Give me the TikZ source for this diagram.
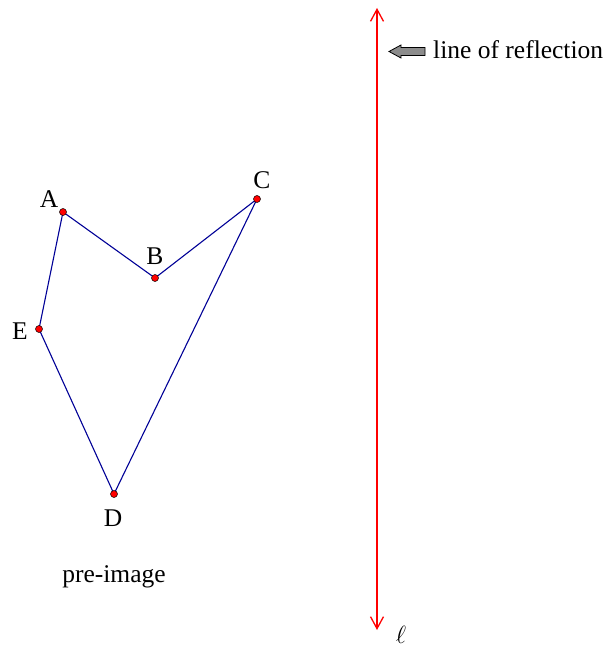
\documentclass[tikz,border=0pt]{standalone}
\usepackage{fontspec}
\setmainfont{Liberation Serif}
\usetikzlibrary{arrows.meta}
\definecolor{edgeblue}{RGB}{0,0,150}
\begin{document}
\begin{tikzpicture}[x=1pt, y=-1pt,
        vertex/.style={circle, draw=black, fill=red, line width=0.5pt, inner sep=0pt, minimum size=7pt},
        side/.style={draw=edgeblue, line width=1.1pt, line join=round},
        mirror/.style={red, line width=1.3pt, {Straight Barb[length=12pt, width=13pt]}-{Straight Barb[length=12pt, width=13pt]}},
        lbl/.style={font=\fontsize{25.5}{30}\selectfont, inner sep=0pt}
    ]
        \useasboundingbox (0,0) rectangle (615,650);

        % pre-image vertices
        \coordinate (A) at (63,212);
        \coordinate (B) at (155,278);
        \coordinate (C) at (257,199);
        \coordinate (D) at (114,494);
        \coordinate (E) at (39,329);

        \draw[side] (A) -- (B) -- (C) -- (D) -- (E) -- cycle;

        \foreach \p in {A,B,C,D,E}
            \node[vertex] (dot\p) at (\p) {};

        \node[lbl] (labA) at (49,199) {A};
        \node[lbl] (labB) at (155,256) {B};
        \node[lbl] (labC) at (262,180) {C};
        \node[lbl] (labD) at (113,518) {D};
        \node[lbl] (labE) at (20,331) {E};
        \node[lbl] (pre) at (114,577) {pre-image};

        % line of reflection
        \coordinate (top) at (377,8);
        \coordinate (bot) at (377,630);
        \draw[mirror] (top) -- (bot);
        \node[lbl] (ell) at (401,635) {$\ell$};

        \draw[fill=gray!90, draw=black, line width=0.8pt]
            (425,47.5) -- (401,47.5) -- (401,45) -- (389,51.5) -- (401,58) -- (401,55.5) -- (425,55.5) -- cycle;
        \node[lbl, anchor=base west] (reflabel) at (433,59) {line of reflection};
    \end{tikzpicture}
\end{document}
